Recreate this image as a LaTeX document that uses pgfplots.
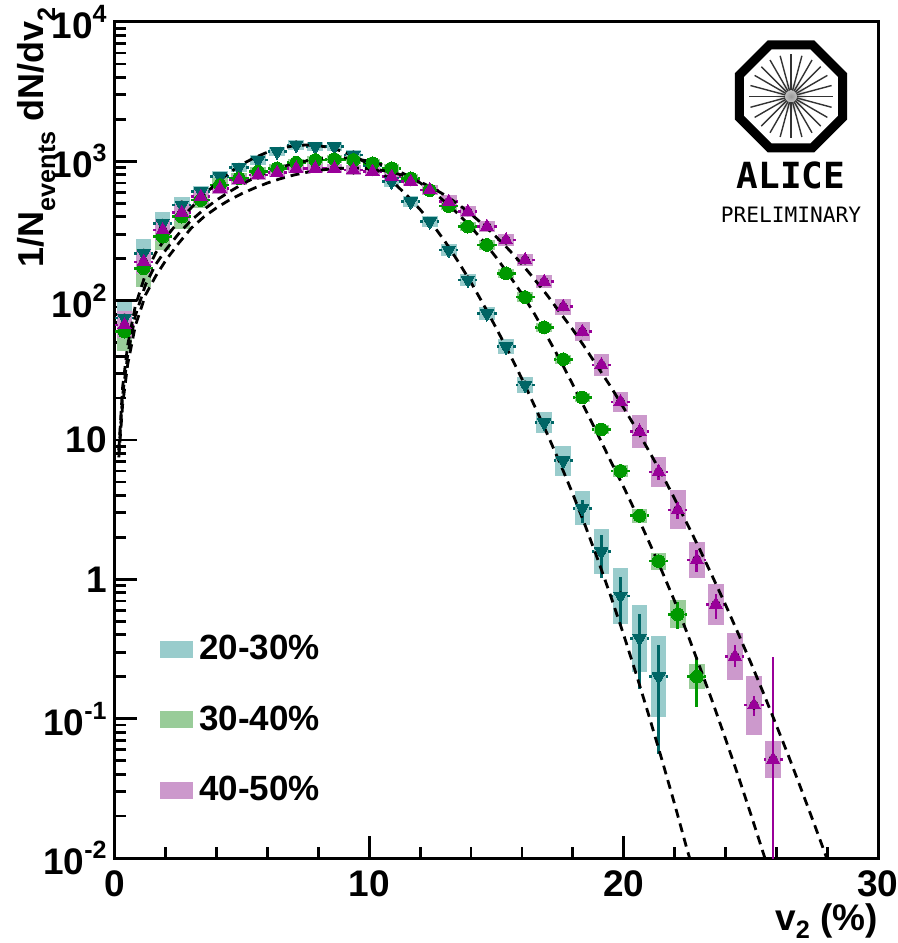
\documentclass[border=0pt]{standalone}
\usepackage{fontspec}
\setmainfont{Liberation Sans}
\newfontfamily\alicefont{DejaVu Sans Mono}
\usepackage{graphicx}
\usepackage{pgfplots}
\usepackage{pgfplotstable}
\pgfplotsset{compat=1.18}
\definecolor{tealD}{RGB}{0,102,102}
\definecolor{tealB}{RGB}{153,204,204}
\definecolor{greenD}{RGB}{0,153,0}
\definecolor{greenB}{RGB}{153,204,153}
\definecolor{purpD}{RGB}{153,0,153}
\definecolor{purpB}{RGB}{204,153,204}
\newcommand\sps[1]{\raisebox{8bp}{\fontsize{12.5bp}{13bp}\selectfont #1}}
\newcommand\sbs[1]{\raisebox{-6bp}{\fontsize{12.6bp}{13bp}\selectfont #1}}
\newcommand\sbx[1]{\raisebox{-4bp}{\fontsize{12.6bp}{13bp}\selectfont #1}}

% x  y  stat+  stat-  systematic factor
\pgfplotstableread{
x y ep em bf
0.375 75 0 0 1.30
1.125 219 0 0 1.26
1.875 359 0 0 1.20
2.625 486 0 0 1.15
3.375 606 0 0 1.10
4.125 776 0 0 1.10
4.875 906 0 0 1.08
5.625 1022 0 0 1.08
6.375 1173 0 0 1.08
7.125 1310 0 0 1.08
7.875 1274 0 0 1.08
8.625 1274 0 0 1.08
9.375 1110 0 0 1.08
10.125 925 0 0 1.08
10.875 714 0 0 1.09
11.625 513 0 0 1.10
12.375 369 0 0 1.10
13.125 231 0 0 1.10
13.875 141 0 0 1.10
14.625 81 0 0 1.11
15.375 46.7 0 0 1.13
16.125 24.8 0 0 1.14
16.875 13.3 0.6 0.6 1.19
17.625 7.1 0.6 0.7 1.28
18.375 3.24 0.5 0.7 1.33
19.125 1.58 0.5 0.56 1.45
19.875 0.76 0.28 0.30 1.58
20.625 0.377 0.19 0.214 1.74
21.375 0.2 0.14 0.144 1.95
}\tealdata

\pgfplotstableread{
x y ep em bf
0.375 59.9 0 0 1.38
1.125 171 0 0 1.37
1.875 288 0 0 1.25
2.625 401 0 0 1.22
3.375 528 0 0 1.15
4.125 676 0 0 1.12
4.875 755 0 0 1.10
5.625 843 0 0 1.08
6.375 891 0 0 1.07
7.125 977 0 0 1.07
7.875 1022 0 0 1.07
8.625 1035 0 0 1.07
9.375 1022 0 0 1.07
10.125 968 0 0 1.07
10.875 891 0 0 1.07
11.625 755 0 0 1.07
12.375 622 0 0 1.07
13.125 478 0 0 1.07
13.875 340 0 0 1.08
14.625 251 0 0 1.08
15.375 157 0 0 1.08
16.125 106 0 0 1.08
16.875 64.4 0 0 1.08
17.625 38 0 0 1.08
18.375 20.2 0 0 1.08
19.125 11.9 0 0 1.08
19.875 6.0 0 0 1.10
20.625 2.86 0.15 0.15 1.12
21.375 1.35 0.12 0.12 1.15
22.125 0.56 0.13 0.12 1.26
22.875 0.2 0.075 0.078 1.23
}\greendata

\pgfplotstableread{
x y ep em bf
0.375 66.9 0 0 1.25
1.125 190 0 0 1.22
1.875 321 0 0 1.20
2.625 428 0 0 1.15
3.375 557 0 0 1.12
4.125 640 0 0 1.10
4.875 735 0 0 1.08
5.625 798 0 0 1.08
6.375 829 0 0 1.08
7.125 891 0 0 1.08
7.875 891 0 0 1.08
8.625 891 0 0 1.08
9.375 867 0 0 1.08
10.125 843 0 0 1.08
10.875 776 0 0 1.08
11.625 714 0 0 1.08
12.375 622 0 0 1.09
13.125 513 0 0 1.11
13.875 435 0 0 1.10
14.625 340 0 0 1.10
15.375 272 0 0 1.10
16.125 196 0 0 1.11
16.875 137 0 0 1.11
17.625 90.5 0 0 1.14
18.375 59.9 0 0 1.17
19.125 34.5 0 0 1.20
19.875 18.8 0 0 1.18
20.625 11.5 0.5 0.5 1.32
21.375 5.9 0.7 0.7 1.29
22.125 3.15 0.45 0.45 1.38
22.875 1.38 0.24 0.25 1.34
23.625 0.66 0.13 0.14 1.41
24.375 0.28 0.06 0.044 1.48
25.125 0.125 0.02 0.02 1.63
25.875 0.051 0.228 0.0505 1.35
}\purpdata

\pgfplotstableread{
x y
0.15 8.5
0.3 24
0.5 48
0.8 92
1.2 155
1.6 220
2.0 285
2.5 370
3.0 465
3.5 575
4.0 700
4.5 830
5.0 955
5.5 1065
6.0 1165
6.5 1240
7.0 1290
7.5 1310
8.0 1295
8.5 1250
9.0 1170
9.5 1065
10.0 950
10.5 820
11.0 690
11.5 565
12.0 450
12.5 350
13.0 262
13.5 190
14.0 135
14.5 93
15.0 63
15.5 42
16.0 27.5
16.5 17.5
17.0 11.0
17.5 6.8
18.0 4.1
18.5 2.4
19.0 1.36
19.5 0.75
20.0 0.40
20.5 0.207
21.0 0.104
21.5 0.051
22.0 0.0245
22.5 0.0114
22.8 0.0075
}\tealfit

\pgfplotstableread{
x y
0.15 8
0.3 21
0.5 41
0.8 78
1.2 130
1.6 182
2.0 232
2.5 302
3.0 378
3.5 452
4.0 528
4.5 605
5.0 685
5.5 765
6.0 840
6.5 905
7.0 960
7.5 1005
8.0 1040
8.5 1060
9.0 1060
9.5 1040
10.0 1000
10.5 945
11.0 875
11.5 790
12.0 700
12.5 605
13.0 508
13.5 418
14.0 337
14.5 265
15.0 203
15.5 152
16.0 112
16.5 80
17.0 55
17.5 37.5
18.0 25
18.5 16.5
19.0 10.8
19.5 7.0
20.0 4.6
20.5 2.95
21.0 1.85
21.5 1.15
22.0 0.70
22.5 0.41
23.0 0.233
23.5 0.131
24.0 0.072
24.5 0.039
25.0 0.0206
25.5 0.0107
25.7 0.0082
}\greenfit

\pgfplotstableread{
x y
0.15 7.5
0.3 18
0.5 35
0.8 66
1.2 110
1.6 150
2.0 195
2.5 258
3.0 332
3.5 400
4.0 465
4.5 528
5.0 588
5.5 645
6.0 700
6.5 750
7.0 795
7.5 832
8.0 862
8.5 882
9.0 893
9.5 895
10.0 885
10.5 862
11.0 825
11.5 775
12.0 712
12.5 642
13.0 568
13.5 492
14.0 418
14.5 348
15.0 286
15.5 231
16.0 183
16.5 142
17.0 109
17.5 82
18.0 62
18.5 45.5
19.0 33
19.5 24
20.0 17
20.5 12
21.0 8.3
21.5 5.7
22.0 3.8
22.5 2.5
23.0 1.63
23.5 1.04
24.0 0.66
24.5 0.41
25.0 0.252
25.5 0.152
26.0 0.090
26.5 0.053
27.0 0.0305
27.5 0.0174
28.0 0.0098
28.2 0.0077
}\purpfit

\pgfplotsset{
  sysbox/.style={only marks, mark=none, forget plot, error bars/y dir=both, error bars/y explicit, error bars/error mark=none,
    error bars/error bar style={line width=7.8bp, color=#1}},
  xerr/.style={only marks, mark=none, forget plot, error bars/x dir=both, error bars/x fixed=0.375, error bars/error mark=none,
    error bars/error bar style={line width=1.3bp, color=#1, dash pattern=on 2.2bp off 1.3bp}},
  pts/.style={only marks, color=#1, forget plot, error bars/y dir=both, error bars/y explicit, error bars/error mark=none,
    error bars/error bar style={line width=1.3bp, color=#1}},
  fitline/.style={black, line width=1.4bp, dash pattern=on 4.5bp off 3bp, forget plot},
}

\begin{document}
\begin{tikzpicture}
\begin{axis}[
  scale only axis, width=381.5bp, height=418bp,
  ymode=log, xmin=0, xmax=30, ymin=0.01, ymax=10000,
  axis line style={line width=1.5bp},
  every tick/.style={line width=1.4bp, black},
  major tick length=11bp, minor tick length=5.5bp,
  tick align=inside, xtick pos=bottom, ytick pos=left,
  xtick={0,10,20,30}, xticklabels={0,10,20,30},
  minor xtick={2,4,6,8,12,14,16,18,22,24,26,28},
  ytick={0.01,0.1,1,10,100,1000,10000},
  yticklabels={10\sps{-2},10\sps{-1},1,10,10\sps{2},10\sps{3},10\sps{4}},
  minor ytick={0.02,0.03,0.04,0.05,0.06,0.07,0.08,0.09,0.2,0.3,0.4,0.5,0.6,0.7,0.8,0.9,2,3,4,5,6,7,8,9,20,30,40,50,60,70,80,90,200,300,400,500,600,700,800,900,2000,3000,4000,5000,6000,7000,8000,9000},
  xticklabel style={font=\fontsize{18.5bp}{20bp}\selectfont\bfseries, inner sep=0pt, anchor=north, yshift=-6bp},
  yticklabel style={font=\fontsize{18.5bp}{20bp}\selectfont\bfseries, inner sep=0pt, anchor=east, xshift=-4bp},
  legend image code/.code={\fill[#1] (0bp,-4.25bp) rectangle (16.35bp,4.25bp);},
  legend style={draw=none, fill=none, inner sep=0pt, at={(rel axis cs:0.059,0.2667)}, anchor=north west,
    font=\fontsize{17.5bp}{19bp}\selectfont\bfseries, nodes={inner sep=0pt},
    row sep=21.5bp, /tikz/every odd column/.append style={column sep=3bp}},
  legend cell align=left,
]
% systematic boxes
\addplot[sysbox=tealB]
  table[x=x, y=y, y error plus expr={\thisrow{y}*(\thisrow{bf}-1)}, y error minus expr={\thisrow{y}*(1-1/\thisrow{bf})}] {\tealdata};
\addplot[sysbox=greenB]
  table[x=x, y=y, y error plus expr={\thisrow{y}*(\thisrow{bf}-1)}, y error minus expr={\thisrow{y}*(1-1/\thisrow{bf})}] {\greendata};
\addplot[sysbox=purpB]
  table[x=x, y=y, y error plus expr={\thisrow{y}*(\thisrow{bf}-1)}, y error minus expr={\thisrow{y}*(1-1/\thisrow{bf})}] {\purpdata};
% horizontal bin-width bars
\addplot[xerr=tealD] table[x=x, y=y] {\tealdata};
\addplot[xerr=greenD] table[x=x, y=y] {\greendata};
\addplot[xerr=purpD] table[x=x, y=y] {\purpdata};
% data points with statistical errors
\addplot[pts=tealD, mark=triangle*, mark size=3.8bp, mark options={rotate=180, fill=tealD, draw=tealD, line width=0pt}]
  table[x=x, y=y, y error plus=ep, y error minus=em] {\tealdata};
\addplot[pts=greenD, mark=*, mark size=3.2bp, mark options={fill=greenD, draw=greenD, line width=0pt}]
  table[x=x, y=y, y error plus=ep, y error minus=em] {\greendata};
\addplot[pts=purpD, mark=triangle*, mark size=3.8bp, mark options={fill=purpD, draw=purpD, line width=0pt}]
  table[x=x, y=y, y error plus=ep, y error minus=em] {\purpdata};
% fits
\addplot[fitline] table {\tealfit};
\addplot[fitline] table {\greenfit};
\addplot[fitline] table {\purpfit};
\addlegendimage{fill=tealB, draw=none}
\addlegendentry{20-30\%}
\addlegendimage{fill=greenB, draw=none}
\addlegendentry{30-40\%}
\addlegendimage{fill=purpB, draw=none}
\addlegendentry{40-50\%}
\coordinate (logo) at (rel axis cs:0.886,0.911);
\coordinate (ylab) at (rel axis cs:0,1);
\coordinate (xlab) at (rel axis cs:1,0);
\end{axis}
% y title
\node[rotate=90, anchor=base east, inner sep=0pt, font=\fontsize{18bp}{20bp}\selectfont\bfseries]
  at ([xshift=-35.9bp, yshift=7.5bp]ylab) {1/N\sbs{events} dN/dv\sbs{2}};
% x title
\node[anchor=base east, inner sep=0pt, font=\fontsize{18.5bp}{20bp}\selectfont\bfseries]
  at ([yshift=-36bp]xlab) {v\sbx{2} (\%)};
% ALICE logo
\begin{scope}[shift={(logo)}]
  \shade[inner color=gray!80, outer color=white] (0,0) circle (8bp);
  \foreach \a in {0,15,...,345} \draw[line width=0.7bp, black!80] (\a:3bp) -- (\a:21bp);
  \draw[line width=4.5bp, line join=miter] (22.5:27.9bp) -- (67.5:27.9bp) -- (112.5:27.9bp) -- (157.5:27.9bp) -- (202.5:27.9bp) -- (247.5:27.9bp) -- (292.5:27.9bp) -- (337.5:27.9bp) -- cycle;
  \node[inner sep=0pt, anchor=base, font=\fontsize{18bp}{18bp}\alicefont\bfseries] at (0,-45.8bp) {ALICE};
  \node[inner sep=0pt, anchor=base, font=\fontsize{10.6bp}{11bp}\alicefont] at (0,-63.2bp) {PRELIMINARY};
\end{scope}
\pgfresetboundingbox
\path[use as bounding box] ([xshift=-57.5bp, yshift=-42.5bp]xlab -| ylab) rectangle ([xshift=10bp, yshift=11bp]ylab -| xlab);
\end{tikzpicture}
\end{document}
